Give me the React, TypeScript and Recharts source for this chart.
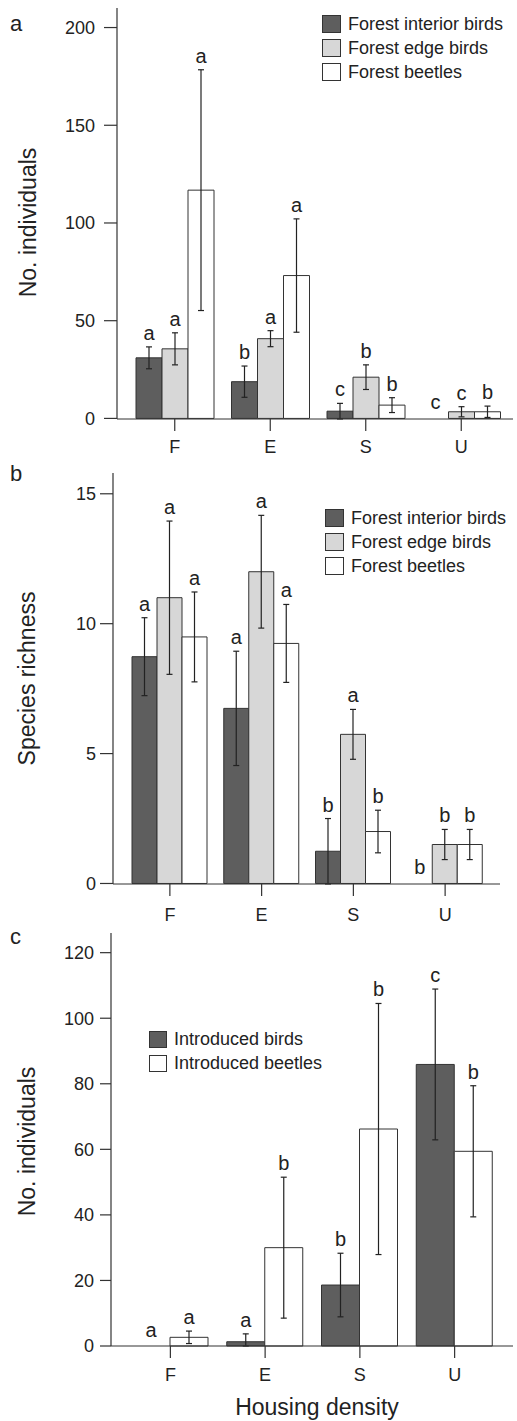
import React from 'react';
import { BarChart, Bar, XAxis, YAxis, ErrorBar, LabelList, Legend } from 'recharts';

type Err = number | [number, number];

const categories = ['F', 'E', 'S', 'U'];

// panel a — individuals
const aInterior = [31, 18.8, 3.7, 0];
const aInteriorErr: Err[] = [5.6, 8, 4, 0];
const aInteriorLetters = ['a', 'b', 'c', 'c'];
const aEdge = [35.6, 40.8, 21.1, 3.4];
const aEdgeErr: Err[] = [8.2, 4.1, 6.3, 2.6];
const aEdgeLetters = ['a', 'a', 'b', 'c'];
const aBeetles = [116.8, 73.1, 6.8, 3.4];
const aBeetlesErr: Err[] = [61.6, 29, 3.8, 2.9];
const aBeetlesLetters = ['a', 'a', 'b', 'b'];
const aTicks = [0, 50, 100, 150, 200];

// panel b — species richness
const bInterior = [8.73, 6.74, 1.24, 0];
const bInteriorErr: Err[] = [1.5, 2.2, 1.26, 0];
const bInteriorLetters = ['a', 'a', 'b', 'b'];
const bEdge = [11.0, 12.0, 5.74, 1.5];
const bEdgeErr: Err[] = [2.95, 2.17, 0.96, 0.58];
const bEdgeLetters = ['a', 'a', 'a', 'b'];
const bBeetles = [9.49, 9.24, 2.0, 1.5];
const bBeetlesErr: Err[] = [1.73, 1.5, 0.82, 0.58];
const bBeetlesLetters = ['a', 'a', 'b', 'b'];
const bTicks = [0, 5, 10, 15];

// panel c — introduced species
const cBirds = [0, 1.3, 18.6, 85.9];
const cBirdsErr: Err[] = [0, [1.3, 2.4], 9.7, 23];
const cBirdsLetters = ['a', 'a', 'b', 'c'];
const cBeetles = [2.65, 30.0, 66.2, 59.4];
const cBeetlesErr: Err[] = [1.9, 21.5, 38.3, 20];
const cBeetlesLetters = ['a', 'b', 'b', 'b'];
const cTicks = [0, 20, 40, 60, 80, 100, 120];

const forestNames = ['Forest interior birds', 'Forest edge birds', 'Forest beetles'];
const introducedNames = ['Introduced birds', 'Introduced beetles'];

const DARK = '#5e5e5e';
const LIGHT = '#d7d7d7';
const WHITE = '#ffffff';
const INK = '#222';
const FONT = '"Liberation Sans", Arial, Helvetica, sans-serif';

// letter over each bar, just above its error bar.
// zero bars get no rectangle, so the next bar in the group writes the letter for them.
const letterLabel = (
  vals: number[], errs: Err[], letters: string[],
  prev?: { vals: number[]; letters: string[] },
) => (props: any) => {
  const i = categories.indexOf(String(props.value));
  if (i < 0) return null;
  const vb = props.viewBox ?? props;
  const top = Math.min(vb.y, vb.y + vb.height);
  const h = Math.abs(vb.height);
  const base = top + h;
  const e = errs[i];
  const up = Array.isArray(e) ? e[1] : e;
  const k = vals[i] > 0 ? h / vals[i] : 0;
  const y = top - up * k - 7;
  const cx = vb.x + vb.width / 2;
  return (
    <g>
      <text x={cx} y={y} textAnchor="middle" fontSize={20} fill={INK} fontFamily={FONT}>
        {letters[i]}
      </text>
      {prev && prev.vals[i] === 0 && (
        <text x={cx - vb.width} y={base - 9} textAnchor="middle" fontSize={20} fill={INK} fontFamily={FONT}>
          {prev.letters[i]}
        </text>
      )}
    </g>
  );
};

const LegendBox = (order: string[], box: number, rowH: number) => (props: any) => {
  const items = [...(props.payload ?? [])].sort((p: any, q: any) => order.indexOf(p.value) - order.indexOf(q.value));
  return (
    <div style={{ fontFamily: FONT, fontSize: 18, color: INK }}>
      {items.map((p: any) => (
        <div key={p.value} style={{ display: 'flex', alignItems: 'center', height: rowH }}>
          <span
            style={{
              width: box + 1,
              height: box,
              background: p.color,
              border: '1.5px solid #333',
              boxSizing: 'border-box',
              marginRight: 7,
              display: 'inline-block',
            }}
          />
          <span>{p.value}</span>
        </div>
      ))}
    </div>
  );
};

const XTick = (props: any) => (
  <text x={props.x} y={props.y} dy="0.71em" textAnchor="middle" fontSize={18} fill={INK} fontFamily={FONT}>
    {props.payload.value}
  </text>
);
const YTick = (props: any) => (
  <text x={props.x} y={props.y} dy="0.36em" textAnchor="end" fontSize={18} fill={INK} fontFamily={FONT}>
    {props.payload.value}
  </text>
);

const axisLine = { stroke: '#333', strokeWidth: 1.2 };

function PanelLetter({ text, top }: { text: string; top: number }) {
  return (
    <div style={{ position: 'absolute', left: 10, top, fontSize: 22, fontFamily: FONT, color: INK, lineHeight: 1 }}>
      {text}
    </div>
  );
}

export default function App() {
  const aData = categories.map((c, i) => ({
    cat: c,
    interior: aInterior[i], interiorErr: aInteriorErr[i],
    edge: aEdge[i], edgeErr: aEdgeErr[i],
    beetles: aBeetles[i], beetlesErr: aBeetlesErr[i],
  }));
  const bData = categories.map((c, i) => ({
    cat: c,
    interior: bInterior[i], interiorErr: bInteriorErr[i],
    edge: bEdge[i], edgeErr: bEdgeErr[i],
    beetles: bBeetles[i], beetlesErr: bBeetlesErr[i],
  }));
  const cData = categories.map((c, i) => ({
    cat: c,
    birds: cBirds[i], birdsErr: cBirdsErr[i],
    beetles: cBeetles[i], beetlesErr: cBeetlesErr[i],
  }));

  const barProps = { stroke: '#333', strokeWidth: 1, isAnimationActive: false };
  const errProps = { width: 3, stroke: '#222', strokeWidth: 1.2, direction: 'y' as const };
  const axisLabel = { fontSize: 23, fill: INK, fontFamily: FONT };

  return (
    <div style={{ position: 'absolute', left: 0, top: 0, width: 517, height: 1421, background: '#fff', fontFamily: FONT }}>
      <PanelLetter text="a" top={13} />
      <PanelLetter text="b" top={463} />
      <PanelLetter text="c" top={926} />

      {/* panel a */}
      <div style={{ position: 'absolute', left: 0, top: 0 }}>
        <BarChart width={517} height={460} data={aData} margin={{ top: 8, right: 4, left: 0, bottom: 0 }} barCategoryGap={9} barGap={0}>
          <XAxis dataKey="cat" height={41} axisLine={axisLine} tickLine={axisLine} tickSize={12} tickMargin={9} tick={XTick} padding={{ left: 10, right: 4 }} interval={0} />
          <YAxis width={117} domain={[0, 210]} ticks={aTicks} axisLine={axisLine} tickLine={axisLine} tickSize={13} tickMargin={9} tick={YTick}
            label={{ value: 'No. individuals', angle: -90, position: 'center', dx: -31, dy: 9, style: axisLabel }} />
          <Legend layout="vertical" align="center" verticalAlign="middle" wrapperStyle={{ top: 12, left: 322, width: 195 }} content={LegendBox(forestNames, 18, 24)} />
          <Bar dataKey="interior" name={forestNames[0]} fill={DARK} {...barProps}>
            <ErrorBar dataKey="interiorErr" {...errProps} />
            <LabelList dataKey="cat" content={letterLabel(aInterior, aInteriorErr, aInteriorLetters)} />
          </Bar>
          <Bar dataKey="edge" name={forestNames[1]} fill={LIGHT} {...barProps}>
            <ErrorBar dataKey="edgeErr" {...errProps} />
            <LabelList dataKey="cat" content={letterLabel(aEdge, aEdgeErr, aEdgeLetters, { vals: aInterior, letters: aInteriorLetters })} />
          </Bar>
          <Bar dataKey="beetles" name={forestNames[2]} fill={WHITE} {...barProps}>
            <ErrorBar dataKey="beetlesErr" {...errProps} />
            <LabelList dataKey="cat" content={letterLabel(aBeetles, aBeetlesErr, aBeetlesLetters)} />
          </Bar>
        </BarChart>
      </div>

      {/* panel b */}
      <div style={{ position: 'absolute', left: 0, top: 460 }}>
        <BarChart width={517} height={470} data={bData} margin={{ top: 13, right: 17, left: 0, bottom: 0 }} barCategoryGap={8} barGap={0}>
          <XAxis dataKey="cat" height={46} axisLine={axisLine} tickLine={axisLine} tickSize={12} tickMargin={12} tick={XTick} padding={{ left: 11, right: 9 }} interval={0} />
          <YAxis width={113} domain={[0, 15.8]} ticks={bTicks} axisLine={axisLine} tickLine={axisLine} tickSize={13} tickMargin={4} tick={YTick}
            label={{ value: 'Species richness', angle: -90, position: 'center', dx: -29.5, dy: 0, style: axisLabel }} />
          <Legend layout="vertical" align="center" verticalAlign="middle" wrapperStyle={{ top: 46, left: 325, width: 192 }} content={LegendBox(forestNames, 18, 24)} />
          <Bar dataKey="interior" name={forestNames[0]} fill={DARK} {...barProps}>
            <ErrorBar dataKey="interiorErr" {...errProps} />
            <LabelList dataKey="cat" content={letterLabel(bInterior, bInteriorErr, bInteriorLetters)} />
          </Bar>
          <Bar dataKey="edge" name={forestNames[1]} fill={LIGHT} {...barProps}>
            <ErrorBar dataKey="edgeErr" {...errProps} />
            <LabelList dataKey="cat" content={letterLabel(bEdge, bEdgeErr, bEdgeLetters, { vals: bInterior, letters: bInteriorLetters })} />
          </Bar>
          <Bar dataKey="beetles" name={forestNames[2]} fill={WHITE} {...barProps}>
            <ErrorBar dataKey="beetlesErr" {...errProps} />
            <LabelList dataKey="cat" content={letterLabel(bBeetles, bBeetlesErr, bBeetlesLetters)} />
          </Bar>
        </BarChart>
      </div>

      {/* panel c */}
      <div style={{ position: 'absolute', left: 0, top: 920 }}>
        <BarChart width={517} height={501} data={cData} margin={{ top: 13, right: 4, left: 0, bottom: 0 }} barCategoryGap={9} barGap={0}>
          <XAxis dataKey="cat" height={75} axisLine={axisLine} tickLine={axisLine} tickSize={12} tickMargin={10} tick={XTick} padding={{ left: 12, right: 11 }} interval={0}
            label={{ value: 'Housing density', position: 'insideBottom', offset: 6, dx: 5, style: axisLabel }} />
          <YAxis width={111} domain={[0, 126]} ticks={cTicks} axisLine={axisLine} tickLine={axisLine} tickSize={11} tickMargin={6} tick={YTick}
            label={{ value: 'No. individuals', angle: -90, position: 'center', dx: -28.5, dy: 2, style: axisLabel }} />
          <Legend layout="vertical" align="center" verticalAlign="middle" wrapperStyle={{ top: 107, left: 149, width: 220 }} content={LegendBox(introducedNames, 17, 24)} />
          <Bar dataKey="birds" name={introducedNames[0]} fill={DARK} {...barProps}>
            <ErrorBar dataKey="birdsErr" {...errProps} />
            <LabelList dataKey="cat" content={letterLabel(cBirds, cBirdsErr, cBirdsLetters)} />
          </Bar>
          <Bar dataKey="beetles" name={introducedNames[1]} fill={WHITE} {...barProps}>
            <ErrorBar dataKey="beetlesErr" {...errProps} />
            <LabelList dataKey="cat" content={letterLabel(cBeetles, cBeetlesErr, cBeetlesLetters, { vals: cBirds, letters: cBirdsLetters })} />
          </Bar>
        </BarChart>
      </div>
    </div>
  );
}
